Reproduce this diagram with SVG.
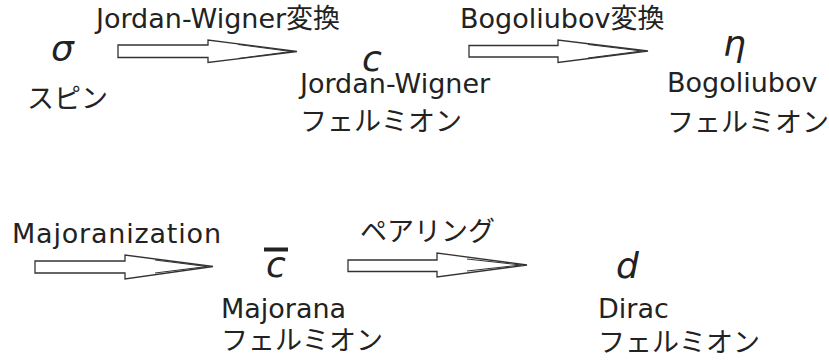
<svg xmlns="http://www.w3.org/2000/svg" width="829" height="362" viewBox="0 0 829 362">
<style>
.t{font-family:"DejaVu Sans","Noto Sans CJK JP",sans-serif;font-size:27px;fill:#222}
.m{font-family:"DejaVu Sans",sans-serif;font-style:italic;font-size:36px;fill:#222}
.ar{fill:#fff;stroke:#333;stroke-width:1.3}
.in{fill:none;stroke:#333;stroke-width:1}
</style>
<rect width="829" height="362" fill="#fff"/>
<g id="connectors">
  <g id="arrow-jw">
    <path class="ar" d="M118,45 H208 V40 L297,51.5 L208,62.5 V57.5 H118 Z"/>
    <polyline class="in" points="238,44.5 291,51.5 238,58.5"/>
  </g>
  <g id="arrow-bogo">
    <path class="ar" d="M469,45.5 H558 V40 L648,51 L558,62.5 V57 H469 Z"/>
    <polyline class="in" points="588,44.5 642,51 588,58"/>
  </g>
  <g id="arrow-maj">
    <path class="ar" d="M35,261 H125 V255 L213,266.5 L125,279 V273 H35 Z"/>
    <polyline class="in" points="155,260 207,266.5 155,273"/>
  </g>
  <g id="arrow-pair">
    <path class="ar" d="M348,260 H437 V253 L527,265 L437,277 V271.5 H348 Z"/>
    <polyline class="in" points="467,259 521,265 467,271"/>
  </g>
</g>
<g id="label-jw"><text class="t" x="96" y="28">Jordan-Wigner変換</text></g>
<g id="label-bogo"><text class="t" x="460" y="28">Bogoliubov変換</text></g>
<g id="label-maj"><text class="t" x="12" y="243" textLength="209" lengthAdjust="spacing">Majoranization</text></g>
<g id="label-pair"><text class="t" x="360" y="241">ペアリング</text></g>
<g id="node-sigma">
  <text class="m" x="51" y="61">σ</text>
  <text class="t" x="27" y="108">スピン</text>
</g>
<g id="node-c">
  <text class="m" x="362" y="71">c</text>
  <text class="t" x="300" y="93">Jordan-Wigner</text>
  <text class="t" x="300" y="131">フェルミオン</text>
</g>
<g id="node-eta">
  <text class="m" x="723" y="56">η</text>
  <text class="t" x="667" y="92">Bogoliubov</text>
  <text class="t" x="667" y="132">フェルミオン</text>
</g>
<g id="node-cbar">
  <rect x="264" y="247.5" width="24" height="4" fill="#222"/>
  <text class="m" x="266" y="277">c</text>
  <text class="t" x="221" y="318">Majorana</text>
  <text class="t" x="221" y="350">フェルミオン</text>
</g>
<g id="node-d">
  <text class="m" x="616" y="278">d</text>
  <text class="t" x="598" y="318">Dirac</text>
  <text class="t" x="598" y="352">フェルミオン</text>
</g>
</svg>
